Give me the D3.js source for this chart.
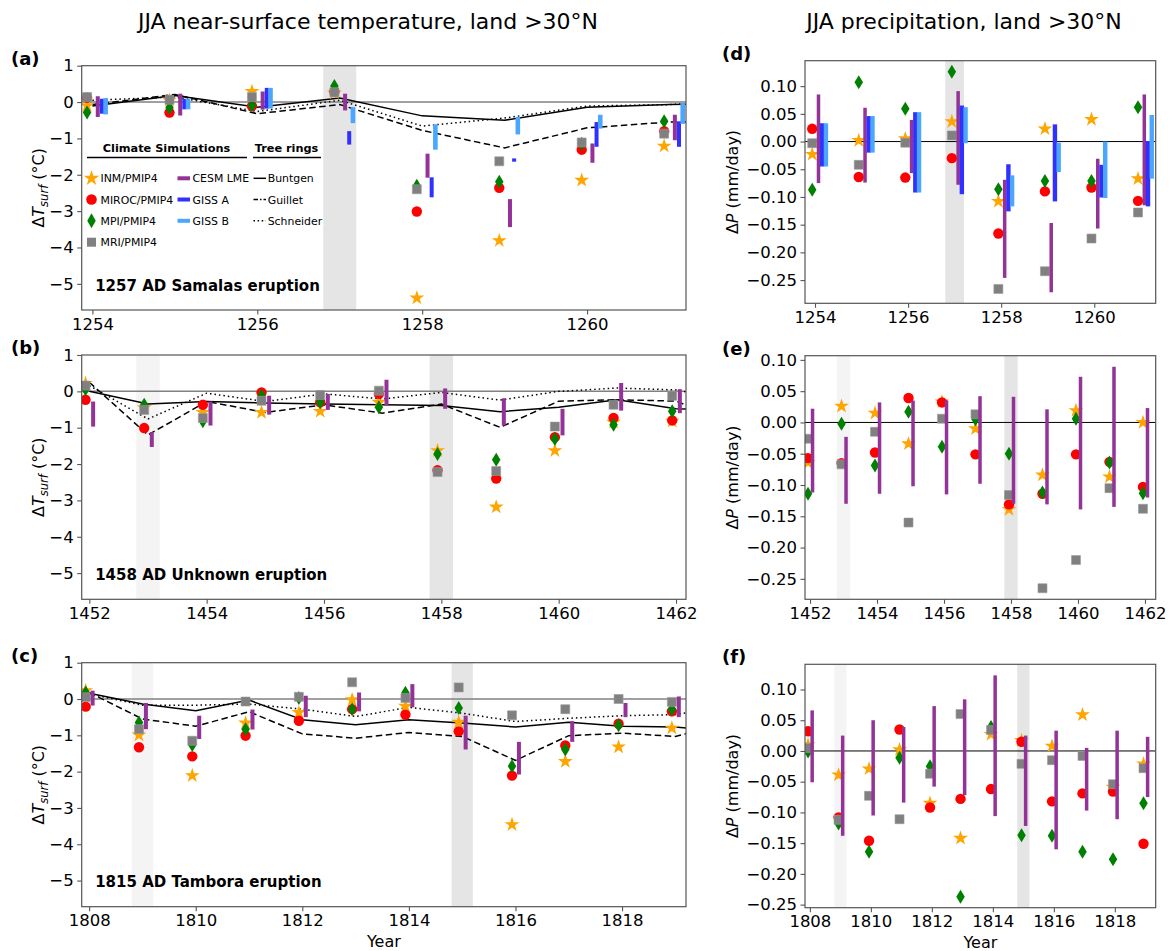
<!DOCTYPE html>
<html><head><meta charset="utf-8">
<script src="https://cdn.jsdelivr.net/npm/d3@7"></script>
<style>body{margin:0;background:#fff;} text{font-family:"DejaVu Sans",sans-serif;fill:#000;}</style>
</head><body><svg id="chart" width="1169" height="951"></svg>
<script>
// ---------------- DATA ----------------
const yearsA = [1254,1255,1256,1257,1258,1259,1260,1261];
const yearsB = [1452,1453,1454,1455,1456,1457,1458,1459,1460,1461,1462];
const yearsC = [1808,1809,1810,1811,1812,1813,1814,1815,1816,1817,1818,1819];
const treeYearsA = [1254,1255,1256,1257,1258,1259,1260,1261,1262];
const treeYearsB = [1452,1453,1454,1455,1456,1457,1458,1459,1460,1461,1462,1463];
const treeYearsC = [1808,1809,1810,1811,1812,1813,1814,1815,1816,1817,1818,1819,1820];

// (a) temperature, Samalas
const tA_INM   = [-0.10, 0.05, 0.29, 0.25, -5.39, -3.81, -2.15, -1.21];
const tA_MIROC = [0.12, -0.29, -0.11, 0.28, -3.01, -2.36, -1.31, -0.80];
const tA_MPI   = [-0.29, -0.16, -0.09, 0.44, -2.30, -2.19, -1.15, -0.53];
const tA_MRI   = [0.14, 0.06, 0.14, 0.27, -2.40, -1.63, -1.11, -0.87];
const tA_CESM_hi  = [0.16, 0.23, 0.29, 0.23, -1.42, -2.67, -1.14, -0.35];
const tA_CESM_lo  = [-0.41, -0.37, -0.21, -0.23, -2.08, -3.44, -1.67, -1.05];
const tA_GISSA_hi = [0.09, 0.09, 0.39, -0.80, -2.07, -1.55, -0.55, -0.53];
const tA_GISSA_lo = [-0.32, -0.20, -0.18, -1.17, -2.62, -1.64, -1.23, -1.23];
const tA_GISSB_hi = [0.11, 0.09, 0.39, -0.14, -0.61, -0.41, -0.35, -0.02];
const tA_GISSB_lo = [-0.34, -0.20, -0.18, -0.58, -1.31, -0.89, -0.73, -0.60];
const trA_Buntgen   = [-0.11, 0.18, -0.14, 0.11, -0.38, -0.50, -0.14, -0.07, -0.03];
const trA_Guillet   = [-0.07, 0.21, -0.32, -0.07, -0.78, -1.26, -0.71, -0.55, -0.55];
const trA_Schneider = [0.05, 0.14, -0.26, 0.05, -0.66, -0.44, -0.11, -0.07, 0.05];

// (b) temperature, 1458 unknown
const tB_INM   = [0.22, -0.45, -0.58, -0.58, -0.55, -0.30, -1.63, -3.18, -1.63, -0.85, -0.82];
const tB_MIROC = [-0.23, -1.01, -0.37, -0.03, -0.30, -0.07, -2.17, -2.40, -1.26, -0.73, -0.80];
const tB_MPI   = [0.06, -0.37, -0.82, -0.12, -0.30, -0.44, -1.72, -1.88, -1.31, -0.92, -0.55];
const tB_MRI   = [0.16, -0.51, -0.73, -0.26, -0.10, 0.02, -2.22, -2.19, -0.97, -0.37, -0.12];
const tB_CESM_hi = [-0.28, -1.12, -0.28, -0.12, -0.07, 0.32, 0.08, -0.19, -0.48, 0.23, 0.06];
const tB_CESM_lo = [-0.97, -1.53, -0.94, -0.64, -0.51, -0.39, -0.48, -0.94, -1.21, -0.53, -0.60];
const trB_Buntgen   = [0.00, -0.35, -0.28, -0.32, -0.35, -0.37, -0.39, -0.56, -0.44, -0.23, -0.48, -0.50];
const trB_Guillet   = [0.25, -1.20, -0.28, -0.58, -0.37, -0.60, -0.35, -0.99, -0.27, -0.23, -0.27, -0.90];
const trB_Schneider = [0.16, -0.76, -0.05, -0.28, -0.07, -0.21, -0.03, -0.24, 0.00, 0.09, 0.04, -0.30];

// (c) temperature, Tambora
const tC_INM   = [0.23, -0.99, -2.11, -0.66, -0.37, -0.02, -0.20, -0.64, -3.46, -1.72, -1.32, -0.80];
const tC_MIROC = [-0.21, -1.33, -1.58, -1.01, -0.60, -0.28, -0.43, -0.89, -2.11, -1.28, -0.68, -0.34];
const tC_MPI   = [0.18, -0.65, -1.27, -0.83, 0.03, -0.28, 0.17, -0.25, -1.85, -1.39, -0.72, -0.29];
const tC_MRI   = [0.05, -0.83, -1.15, -0.07, 0.06, 0.46, 0.03, 0.32, -0.45, -0.28, 0.00, -0.08];
const tC_CESM_hi = [0.23, -0.11, -0.46, -0.29, 0.09, 0.18, 0.41, -0.46, -1.18, -0.61, -0.11, 0.07];
const tC_CESM_lo = [-0.18, -0.83, -1.10, -0.84, -0.50, -0.34, -0.23, -1.39, -2.08, -1.18, -0.50, -0.50];
const trC_Buntgen   = [0.16, -0.14, -0.32, -0.03, -0.57, -0.71, -0.57, -0.66, -0.77, -0.64, -0.75, -0.77, -0.90];
const trC_Guillet   = [0.18, -0.55, -0.75, -0.35, -0.96, -1.08, -0.92, -1.03, -1.69, -1.01, -0.94, -1.03, -0.66];
const trC_Schneider = [0.14, -0.17, -0.17, -0.14, -0.28, -0.48, -0.23, -0.39, -0.62, -0.53, -0.46, -0.43, -0.20];

// (d) precipitation, Samalas
const pD_INM   = [-0.023, 0.002, 0.005, 0.036, -0.108, 0.023, 0.040, -0.067];
const pD_MIROC = [0.023, -0.064, -0.065, -0.030, -0.166, -0.090, -0.083, -0.107];
const pD_MPI   = [-0.087, 0.107, 0.059, 0.126, -0.086, -0.071, -0.071, 0.062];
const pD_MRI   = [-0.003, -0.042, -0.002, 0.011, -0.266, -0.234, -0.175, -0.128];
const pD_CESM_hi  = [0.085, 0.061, 0.039, 0.091, -0.069, -0.147, -0.031, 0.085];
const pD_CESM_lo  = [-0.075, -0.074, -0.057, -0.078, -0.246, -0.272, -0.157, -0.115];
const pD_GISSA_hi = [0.033, 0.046, 0.053, 0.065, -0.041, 0.031, -0.042, 0.001];
const pD_GISSA_lo = [-0.045, -0.020, -0.092, -0.095, -0.126, -0.108, -0.101, -0.117];
const pD_GISSB_hi = [0.033, 0.046, 0.053, 0.062, -0.061, -0.002, 0.000, 0.048];
const pD_GISSB_lo = [-0.045, -0.020, -0.092, -0.003, -0.117, -0.055, -0.102, -0.067];

// (e) precipitation, 1458
const pE_INM   = [-0.064, 0.026, 0.015, -0.034, 0.033, -0.010, -0.139, -0.084, 0.019, -0.087, 0.000];
const pE_MIROC = [-0.057, -0.065, -0.048, 0.039, 0.032, -0.051, -0.131, -0.114, -0.051, -0.063, -0.103];
const pE_MPI   = [-0.114, -0.002, -0.069, 0.017, -0.039, 0.005, -0.050, -0.112, 0.006, -0.064, -0.113];
const pE_MRI   = [-0.026, -0.067, -0.015, -0.160, 0.006, 0.013, -0.116, -0.265, -0.220, -0.105, -0.138];
const pE_CESM_hi = [0.022, -0.023, 0.032, 0.035, 0.035, 0.042, 0.041, 0.021, 0.073, 0.089, 0.023];
const pE_CESM_lo = [-0.112, -0.130, -0.114, -0.102, -0.115, -0.098, -0.130, -0.131, -0.139, -0.135, -0.120];

// (f) precipitation, Tambora
const pF_INM   = [0.010, -0.039, -0.029, 0.002, -0.085, -0.142, 0.027, 0.017, 0.008, 0.059, -0.059, -0.021];
const pF_MIROC = [0.032, -0.108, -0.146, 0.035, -0.092, -0.078, -0.062, 0.015, -0.082, -0.069, -0.066, -0.151];
const pF_MPI   = [-0.001, -0.118, -0.164, -0.011, -0.025, -0.237, 0.039, -0.137, -0.138, -0.164, -0.176, -0.085];
const pF_MRI   = [0.005, -0.112, -0.073, -0.111, -0.037, 0.060, 0.034, -0.021, -0.015, -0.008, -0.054, -0.028];
const pF_CESM_hi = [0.066, 0.025, 0.050, 0.039, 0.073, 0.084, 0.123, 0.025, 0.033, 0.005, 0.033, 0.023];
const pF_CESM_lo = [-0.051, -0.138, -0.105, -0.084, -0.058, -0.072, -0.106, -0.122, -0.160, -0.097, -0.111, -0.075];

// ticks / labels
const tempTicks = [1, 0, -1, -2, -3, -4, -5];
const precTicks = [0.10, 0.05, 0.00, -0.05, -0.10, -0.15, -0.20, -0.25];
const xTicksA = [1254, 1256, 1258, 1260];
const xTicksB = [1452, 1454, 1456, 1458, 1460, 1462];
const xTicksC = [1808, 1810, 1812, 1814, 1816, 1818];
const eruptionLabels = ["1257 AD Samalas eruption", "1458 AD Unknown eruption", "1815 AD Tambora eruption"];
const panelLetters = ["(a)", "(b)", "(c)", "(d)", "(e)", "(f)"];
const titles = ["JJA near-surface temperature, land >30°N", "JJA precipitation, land >30°N"];
const simNames = ["INM/PMIP4", "MIROC/PMIP4", "MPI/PMIP4", "MRI/PMIP4"];
const barNames = ["CESM LME", "GISS A", "GISS B"];
const treeNames = ["Buntgen", "Guillet", "Schneider"];

// ---------------- STYLE ----------------
const COL = {INM:"#ffa500", MIROC:"#ff0000", MPI:"#008000", MRI:"#808080",
             CESM:"#933397", GISSA:"#3131ff", GISSB:"#4ba6ff"};
const SPINE = "#555";
const treeDash = ["", "6.5,3.5", "1.5,3"];

const svg = d3.select("#chart");

// ---------------- SHAPES ----------------
function starPath(r){ return d3.symbol(d3.symbolStar, r*r/0.8908)(); }
function circlePath(r){ return d3.symbol(d3.symbolCircle, Math.PI*r*r)(); }
function squarePath(s){ const h=s/2; return `M${-h},${-h}H${h}V${h}H${-h}Z`; }
function diamondPath(w,h){ return `M0,${-h/2}L${w/2},0L0,${h/2}L${-w/2},0Z`; }

const markerDefs = [
  {k:"INM", d:starPath(7.8)},
  {k:"MIROC", d:circlePath(5.2)},
  {k:"MPI", d:diamondPath(8.5,14)},
  {k:"MRI", d:squarePath(9)}
];
const legendMarkers = [
  {k:"INM", d:starPath(8.2)},
  {k:"MIROC", d:circlePath(5.3)},
  {k:"MPI", d:diamondPath(8.5,15)},
  {k:"MRI", d:squarePath(9)}
];

// ---------------- PANELS ----------------
const panels = [
  {kind:"T", box:[81.7,65.7,686,310], xdom:[1253.87,1261.2], yrs:yearsA, xt:xTicksA,
   m:{INM:tA_INM,MIROC:tA_MIROC,MPI:tA_MPI,MRI:tA_MRI},
   bars:[{k:"CESM",hi:tA_CESM_hi,lo:tA_CESM_lo},{k:"GISSA",hi:tA_GISSA_hi,lo:tA_GISSA_lo},{k:"GISSB",hi:tA_GISSB_hi,lo:tA_GISSB_lo}],
   tyrs:treeYearsA, tree:[trA_Buntgen,trA_Guillet,trA_Schneider],
   spans:[[1257,"#e5e5e5"]], lab:panelLetters[0], er:eruptionLabels[0], legend:true},
  {kind:"T", box:[81.7,355,686,599.3], xdom:[1451.87,1462.17], yrs:yearsB, xt:xTicksB,
   m:{INM:tB_INM,MIROC:tB_MIROC,MPI:tB_MPI,MRI:tB_MRI},
   bars:[{k:"CESM",hi:tB_CESM_hi,lo:tB_CESM_lo}],
   tyrs:treeYearsB, tree:[trB_Buntgen,trB_Guillet,trB_Schneider],
   spans:[[1453,"#f4f4f4"],[1458,"#e5e5e5"]], lab:panelLetters[1], er:eruptionLabels[1]},
  {kind:"T", box:[81.7,662.7,686,906.7], xdom:[1807.86,1819.2], yrs:yearsC, xt:xTicksC,
   m:{INM:tC_INM,MIROC:tC_MIROC,MPI:tC_MPI,MRI:tC_MRI},
   bars:[{k:"CESM",hi:tC_CESM_hi,lo:tC_CESM_lo}],
   tyrs:treeYearsC, tree:[trC_Buntgen,trC_Guillet,trC_Schneider],
   spans:[[1809,"#f4f4f4"],[1815,"#e5e5e5"]], lab:panelLetters[2], er:eruptionLabels[2], year:true},
  {kind:"P", box:[805,60.7,1155.7,303.3], xdom:[1253.785,1261.32], yrs:yearsA, xt:xTicksA,
   m:{INM:pD_INM,MIROC:pD_MIROC,MPI:pD_MPI,MRI:pD_MRI},
   bars:[{k:"CESM",hi:pD_CESM_hi,lo:pD_CESM_lo},{k:"GISSA",hi:pD_GISSA_hi,lo:pD_GISSA_lo},{k:"GISSB",hi:pD_GISSB_hi,lo:pD_GISSB_lo}],
   spans:[[1257,"#e5e5e5"]], lab:panelLetters[3]},
  {kind:"P", box:[805,355.7,1155.7,599.3], xdom:[1451.85,1462.32], yrs:yearsB, xt:xTicksB,
   m:{INM:pE_INM,MIROC:pE_MIROC,MPI:pE_MPI,MRI:pE_MRI},
   bars:[{k:"CESM",hi:pE_CESM_hi,lo:pE_CESM_lo}],
   spans:[[1453,"#f4f4f4"],[1458,"#e5e5e5"]], lab:panelLetters[4]},
  {kind:"P", box:[805,664.3,1155.7,907.7], xdom:[1807.84,1819.34], yrs:yearsC, xt:xTicksC,
   m:{INM:pF_INM,MIROC:pF_MIROC,MPI:pF_MPI,MRI:pF_MRI},
   bars:[{k:"CESM",hi:pF_CESM_hi,lo:pF_CESM_lo}],
   spans:[[1809,"#f4f4f4"],[1815,"#e5e5e5"]], lab:panelLetters[5], year:true}
];

const fmtMinus = s => s.replace("-", "\u2212");

panels.forEach((p, i) => {
  const [x0,y0,x1,y1] = p.box;
  const x = d3.scaleLinear().domain(p.xdom).range([x0,x1]);
  let ydom;
  if (p.kind === "T") ydom = [-5.72, 1];
  else {
    const all = [];
    Object.values(p.m).forEach(a => all.push(...a));
    p.bars.forEach(b => { all.push(...b.hi); all.push(...b.lo); });
    const mn = d3.min(all), mx = d3.max(all), pad = (mx-mn)*0.05;
    ydom = [mn-pad, mx+pad];
  }
  const y = d3.scaleLinear().domain(ydom).range([y1,y0]);
  const left = p.kind === "T";
  const mOff = left ? -0.065 : -0.06;
  const bOff = left ? [0.065, 0.115, 0.16] : [0.075, 0.155, 0.235];
  const bW = left ? [4, 4, 4.6] : [3.5, 4.4, 4.4];

  const clipId = "clip"+i;
  svg.append("clipPath").attr("id", clipId).append("rect")
    .attr("x", x0).attr("y", y0).attr("width", x1-x0).attr("height", y1-y0);
  const g = svg.append("g").attr("clip-path", `url(#${clipId})`);

  // spans
  p.spans.forEach(([yr, c]) => {
    g.append("rect").attr("x", x(yr-0.2)).attr("width", x(yr+0.2)-x(yr-0.2))
      .attr("y", y0).attr("height", y1-y0).attr("fill", c);
  });
  // zero line
  g.append("line").attr("x1", x0).attr("x2", x1).attr("y1", y(0)).attr("y2", y(0))
    .attr("stroke", left ? "#808080" : "#000").attr("stroke-width", left ? 1.5 : 1);

  // tree-ring lines
  if (p.tree) {
    p.tree.forEach((ser, j) => {
      const line = d3.line().x((d,k) => x(p.tyrs[k])).y(d => y(d));
      g.append("path").attr("d", line(ser)).attr("fill", "none")
        .attr("stroke", "#000").attr("stroke-width", 1.5)
        .attr("stroke-dasharray", treeDash[j] || null);
    });
  }
  // markers
  markerDefs.forEach(md => {
    const vals = p.m[md.k];
    g.selectAll(null).data(vals).enter().append("path")
      .attr("d", md.d)
      .attr("transform", (d,k) => `translate(${x(p.yrs[k]+mOff)},${y(d)})`)
      .attr("fill", COL[md.k])
      .attr("stroke", md.k === "MRI" ? "#9a9a9a" : "none")
      .attr("stroke-width", 0.6);
  });
  // bars
  p.bars.forEach((b, j) => {
    g.selectAll(null).data(b.hi).enter().append("rect")
      .attr("x", (d,k) => x(p.yrs[k]+bOff[j]) - bW[j]/2)
      .attr("width", bW[j])
      .attr("y", d => y(d))
      .attr("height", (d,k) => y(b.lo[k]) - y(d))
      .attr("fill", COL[b.k]);
  });

  // frame
  svg.append("rect").attr("x", x0).attr("y", y0).attr("width", x1-x0).attr("height", y1-y0)
    .attr("fill", "none").attr("stroke", SPINE).attr("stroke-width", 1.2);

  // axes
  const xa = svg.append("g").attr("transform", `translate(0,${y1})`)
    .call(d3.axisBottom(x).tickValues(p.xt).tickFormat(d3.format("d")).tickSize(4.5).tickPadding(3.5));
  const ya = svg.append("g").attr("transform", `translate(${x0},0)`)
    .call(d3.axisLeft(y).tickValues(left ? tempTicks : precTicks)
      .tickFormat(d => fmtMinus(left ? d3.format("d")(d) : d3.format(".2f")(d)))
      .tickSize(4.5).tickPadding(3.5));
  [xa, ya].forEach(a => {
    a.select(".domain").remove();
    a.selectAll(".tick line").attr("stroke", SPINE).attr("stroke-width", 1.1);
    a.selectAll(".tick text").attr("font-size", 16.5).attr("font-family", "DejaVu Sans").attr("fill", "#000");
  });

  // panel letter
  svg.append("text").attr("x", left ? 11 : 722).attr("y", y0 - 1)
    .attr("font-size", 18).attr("font-weight", "bold").text(p.lab);

  // eruption label
  if (p.er) {
    svg.append("text").attr("x", x0 + 13.5).attr("y", y1 - 19.5)
      .attr("font-size", 15).attr("font-weight", "bold").text(p.er);
  }

  // y label
  const cy = (y0 + y1) / 2;
  if (left) {
    const t = svg.append("text").attr("transform", `translate(44,${cy}) rotate(-90)`)
      .attr("text-anchor", "middle").attr("font-size", 16);
    t.append("tspan").text("Δ");
    t.append("tspan").attr("font-style", "italic").text("T");
    t.append("tspan").attr("font-style", "italic").attr("font-size", 11.5).attr("dy", 3.5).text("surf");
    t.append("tspan").attr("dy", -3.5).text("  (°C)");
  } else {
    const t = svg.append("text").attr("transform", `translate(738,${cy}) rotate(-90)`)
      .attr("text-anchor", "middle").attr("font-size", 16);
    t.append("tspan").text("Δ");
    t.append("tspan").attr("font-style", "italic").text("P");
    t.append("tspan").text("  (mm/day)");
  }
  if (p.year) {
    svg.append("text").attr("x", (x0+x1)/2).attr("y", y1 + 40).attr("text-anchor", "middle")
      .attr("font-size", 16).text("Year");
  }

  // legend
  if (p.legend) {
    const L = svg.append("g");
    L.append("text").attr("x", 166.5).attr("y", 151.5).attr("text-anchor", "middle")
      .attr("font-size", 11.3).attr("font-weight", "bold").text("Climate Simulations");
    L.append("text").attr("x", 286.5).attr("y", 151.5).attr("text-anchor", "middle")
      .attr("font-size", 11.3).attr("font-weight", "bold").text("Tree rings");
    L.append("line").attr("x1", 87).attr("x2", 247).attr("y1", 157.5).attr("y2", 157.5).attr("stroke", "#000").attr("stroke-width", 1.3);
    L.append("line").attr("x1", 253).attr("x2", 321).attr("y1", 157.5).attr("y2", 157.5).attr("stroke", "#000").attr("stroke-width", 1.3);
    const rows = [178.3, 199.5, 220.8, 242.2];
    legendMarkers.forEach((md, j) => {
      L.append("path").attr("d", md.d).attr("transform", `translate(91.5,${rows[j]})`).attr("fill", COL[md.k]);
      L.append("text").attr("x", 100.5).attr("y", rows[j] + 4).attr("font-size", 10.9).text(simNames[j]);
    });
    ["CESM","GISSA","GISSB"].forEach((k, j) => {
      L.append("rect").attr("x", 177.5).attr("y", rows[j]-2).attr("width", 12.5).attr("height", 4).attr("fill", COL[k]);
      L.append("text").attr("x", 192.5).attr("y", rows[j] + 4).attr("font-size", 10.9).text(barNames[j]);
    });
    treeNames.forEach((n, j) => {
      L.append("line").attr("x1", 253.5).attr("x2", 266).attr("y1", rows[j]).attr("y2", rows[j])
        .attr("stroke", "#000").attr("stroke-width", 1.5)
        .attr("stroke-dasharray", j === 0 ? null : (j === 1 ? "4.5,2,1.5,2" : "1.5,2.6"));
      L.append("text").attr("x", 267.7).attr("y", rows[j] + 4).attr("font-size", 10.9).text(n);
    });
  }
});

// titles
svg.append("text").attr("x", 368).attr("y", 29).attr("text-anchor", "middle")
  .attr("font-size", 22).text(titles[0]);
svg.append("text").attr("x", 964).attr("y", 29).attr("text-anchor", "middle")
  .attr("font-size", 22).text(titles[1]);
</script></body></html>
